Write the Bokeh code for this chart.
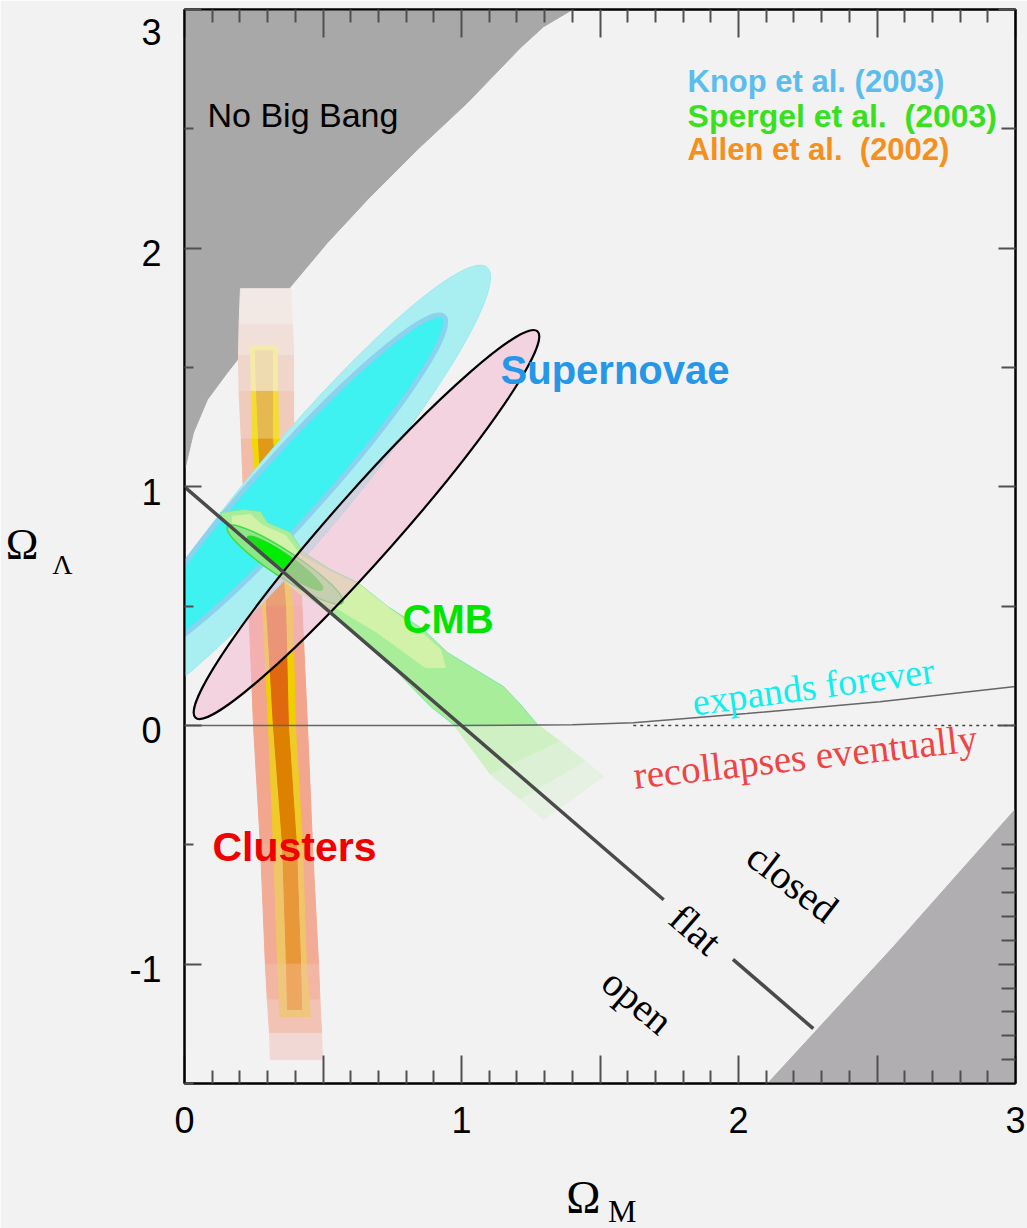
from bokeh.plotting import figure
from bokeh.models import Range1d, LinearAxis, FixedTicker, ColumnDataSource
from bokeh.embed import file_html
from bokeh.resources import INLINE
from bokeh.core.properties import value

# ---------------- data ----------------
# "No Big Bang" boundary (Omega_M, Omega_Lambda)
nbb_x = [0.0, 0.0036, 0.0325, 0.083, 0.155, 0.249, 0.383, 0.516, 0.661, 0.841, 1.022, 1.213, 1.296, 1.401, 0.0]
nbb_y = [1.08, 1.085, 1.228, 1.366, 1.479, 1.617, 1.839, 2.023, 2.204, 2.413, 2.610, 2.840, 2.928, 3.0, 3.0]
# lower-right excluded region
lr_x = [2.105, 2.56, 3.0, 3.0]
lr_y = [-1.5, -0.926, -0.35, -1.5]

# flat universe line (two pieces, broken by the "flat" label)
flat1_x = [0.0, 1.73]
flat1_y = [1.0, -0.73]
flat2_x = [1.98, 2.27]
flat2_y = [-0.98, -1.27]

# expands forever / recollapses boundary
exp_x = [0.0, 1.0, 1.4, 1.62, 2.03, 2.51, 3.0]
exp_y = [0.0, 0.0, 0.003, 0.012, 0.05, 0.10, 0.163]
rec_x = [1.62, 3.0]
rec_y = [0.0, 0.0]

# Supernovae (Knop et al. 2003) confidence ellipses: center x, center y, width, height, angle(deg)
sn_outer = dict(x=0.419, y=0.989, w=2.094, h=0.40, a=50.0)
sn_inner = dict(x=0.383, y=1.001, w=1.653, h=0.275, a=48.0)
# Older supernova ellipse (pink, black outline)
sn_old = dict(x=0.657, y=0.842, w=1.863, h=0.277, a=48.5)

# Clusters (Allen et al. 2002) band layers
clu_y = [1.83, 1.68, 1.55, 1.40, 1.20, 0.90, 0.50, 0.00, -0.50, -1.00, -1.15, -1.29, -1.40]
clu_l = [0.202, 0.197, 0.195, 0.197, 0.205, 0.215, 0.232, 0.249, 0.274, 0.292, 0.299, 0.307, 0.310]
clu_r = [0.383, 0.390, 0.394, 0.394, 0.394, 0.405, 0.424, 0.444, 0.462, 0.484, 0.489, 0.495, 0.498]
clu_c = ["#f2e9e5", "#f1e0da", "#f0d5cb", "#f0cabb", "#f2bca8", "#f2ae98", "#f2a48c",
         "#f2a68e", "#f2ab94", "#f2b6a2", "#f2c3b5", "#f2d8d4"]
yel_y = [1.59, 1.40, 1.20, 0.90, 0.50, 0.00, -0.50, -1.00, -1.22]
yel_l = [0.238, 0.241, 0.245, 0.262, 0.282, 0.303, 0.321, 0.336, 0.345]
yel_r = [0.336, 0.337, 0.339, 0.360, 0.390, 0.400, 0.426, 0.440, 0.455]
yel_c = ["#f5eaa8", "#f2de30", "#f0d800", "#f0d400", "#f0cf00", "#f0ca28", "#f0c468", "#f0c67e"]
core_y = [1.57, 1.40, 1.20, 0.90, 0.50, 0.00, -0.50, -1.00, -1.19]
core_l = [0.256, 0.260, 0.267, 0.280, 0.296, 0.321, 0.354, 0.368, 0.372]
core_r = [0.318, 0.318, 0.318, 0.338, 0.365, 0.375, 0.404, 0.419, 0.423]
core_c = ["#eedcb0", "#e6b850", "#e09a18", "#dd8200", "#e0680e", "#de8000", "#e89838", "#eca860"]

# CMB (Spergel et al. 2003)
cmb_x = [0.130, 0.213, 0.274, 0.300, 0.383, 0.430, 0.527, 0.625, 0.733, 0.863, 0.949, 1.032, 1.152, 1.213, 1.274,
         1.152, 0.971, 0.888, 0.769, 0.625, 0.491, 0.347, 0.249, 0.166, 0.141]
cmb_y = [0.892, 0.905, 0.897, 0.850, 0.809, 0.725, 0.654, 0.599, 0.499, 0.402, 0.306, 0.247, 0.163, 0.088, 0.004,
         0.000, 0.004, 0.080, 0.222, 0.373, 0.499, 0.624, 0.750, 0.821, 0.850]
cmb_in_x = [0.173, 0.238, 0.282, 0.365, 0.419, 0.527, 0.635, 0.744, 0.852, 0.924, 0.942, 0.870, 0.780, 0.690,
            0.599, 0.527, 0.419, 0.310, 0.220, 0.173]
cmb_in_y = [0.876, 0.884, 0.838, 0.796, 0.712, 0.645, 0.587, 0.486, 0.394, 0.318, 0.243, 0.243, 0.318, 0.394,
            0.457, 0.507, 0.549, 0.654, 0.758, 0.821]
ext_xs = [[1.032, 1.274, 1.357, 1.105, 0.971, 0.888],
          [1.357, 1.448, 1.213, 1.105],
          [1.448, 1.513, 1.296, 1.213]]
ext_ys = [[0.247, 0.004, -0.067, -0.205, 0.004, 0.080],
          [-0.067, -0.151, -0.310, -0.205],
          [-0.151, -0.214, -0.394, -0.310]]
ext_c = ["#cff0c2", "#dbf0d5", "#e6f0e3"]
cmb_ring = dict(x=0.363, y=0.674, w=0.498, h=0.109, a=-33.5)
cmb_core = dict(x=0.363, y=0.680, w=0.332, h=0.071, a=-35.0)
cmb_peak = dict(x=0.329, y=0.716, w=0.159, h=0.050, a=-35.0)

# tick values
x_major = [0, 0.5, 1, 1.5, 2, 2.5, 3]
x_minor = [i / 10 for i in range(31) if i % 5 != 0]
x_labels = {0: "0", 0.5: "", 1: "1", 1.5: "", 2: "2", 2.5: "", 3: "3"}
y_major = [-1, 0, 1, 2, 3]
y_minor_left = [-1.5, -0.5, 0.5, 1.5, 2.5]
y_minor_right = [round(-1.4 + i / 10, 1) for i in range(10) if i != 4] + [0.5, 1.5, 2.5]
# where the y tick labels sit (the top one is pulled inside the canvas)
y_label_pos = [-1.02, -0.02, 0.98, 1.98, 2.905]
y_label_txt = ["-1", "0", "1", "2", "3"]

# ---------------- figure ----------------
p = figure(frame_width=831, frame_height=1074, x_range=Range1d(0, 3), y_range=Range1d(-1.5, 3),
           x_axis_type=None, y_axis_type=None, output_backend="svg", toolbar_location=None,
           min_border_left=184, min_border_right=12, min_border_top=9, min_border_bottom=145)
p.background_fill_color = "#f2f2f2"
p.border_fill_color = "#f2f2f2"
p.outline_line_color = "black"
p.outline_line_width = 2

SANS = "Liberation Sans"
SERIF = "Liberation Serif"


def tick_axis(ticks, minor, tin, min_in):
    ax = LinearAxis(ticker=FixedTicker(ticks=ticks, minor_ticks=minor))
    ax.major_tick_in = tin
    ax.major_tick_out = 0
    ax.minor_tick_in = min_in
    ax.minor_tick_out = 0
    ax.axis_line_color = "black"
    ax.axis_line_width = 2
    ax.major_tick_line_color = "#505050"
    ax.major_tick_line_width = 2
    ax.minor_tick_line_color = "#505050"
    ax.minor_tick_line_width = 2
    ax.major_label_text_font_size = "0px"
    ax.major_label_standoff = 0
    ax.major_label_overrides = {t: "" for t in ticks}
    return ax


def text_axis(ticks, labels, font, size, standoff):
    ax = LinearAxis(ticker=FixedTicker(ticks=ticks, minor_ticks=[]))
    ax.axis_line_color = None
    ax.major_tick_line_color = None
    ax.minor_tick_line_color = None
    ax.major_tick_in = 0
    ax.major_tick_out = 0
    ax.minor_tick_in = 0
    ax.minor_tick_out = 0
    ax.major_label_overrides = dict(zip(ticks, labels))
    ax.major_label_text_font = font
    ax.major_label_text_font_size = size
    ax.major_label_text_color = "black"
    ax.major_label_standoff = standoff
    return ax


# bottom: ticks + numbers, then Omega, then subscript M
xb = tick_axis(x_major, x_minor, 28, 13)
xb.major_label_overrides = x_labels
xb.major_label_text_font = SANS
xb.major_label_text_font_size = "36px"
xb.major_label_text_color = "black"
xb.major_label_standoff = 23
p.add_layout(xb, "below")
p.add_layout(text_axis([1.44], ["Ω"], SERIF, "46px", 36), "below")
p.add_layout(text_axis([1.58], ["M"], SERIF, "32px", -33), "below")
# top
p.add_layout(tick_axis(x_major, x_minor, 28, 13), "above")
# left: ticks, numbers, subscript Lambda, Omega
p.add_layout(tick_axis(y_major, y_minor_left, 17, 9), "left")
p.add_layout(text_axis(y_label_pos, y_label_txt, SANS, "36px", 23), "left")
p.add_layout(text_axis([0.674], ["Λ"], SERIF, "28px", 54), "left")
p.add_layout(text_axis([0.757], ["Ω"], SERIF, "44px", 11), "left")
# right
p.add_layout(tick_axis(y_major, y_minor_right, 17, 14), "right")

# excluded regions
p.patch(nbb_x, nbb_y, fill_color="#a8a8a8", line_color="#a8a8a8", line_width=1)
p.patch(lr_x, lr_y, fill_color="#b1aeb1", line_color="#b1aeb1", line_width=1)


def band(ys, ls, rs, cols):
    xs_l, ys_l = [], []
    for i in range(len(cols)):
        xs_l.append([ls[i], rs[i], rs[i + 1], ls[i + 1]])
        ys_l.append([ys[i], ys[i], ys[i + 1], ys[i + 1]])
    src = ColumnDataSource(dict(xs=xs_l, ys=ys_l, c=cols))
    p.patches("xs", "ys", source=src, fill_color="c", line_color="c", line_width=1)


# clusters
band(clu_y, clu_l, clu_r, clu_c)
band(yel_y, yel_l, yel_r, yel_c)
band(core_y, core_l, core_r, core_c)

# supernovae (Knop)
p.ellipse(x=sn_outer["x"], y=sn_outer["y"], width=sn_outer["w"], height=sn_outer["h"], angle=sn_outer["a"],
          angle_units="deg", fill_color="#a9eff2", line_color="#a0e8f0", line_width=1)
p.ellipse(x=sn_inner["x"], y=sn_inner["y"], width=sn_inner["w"], height=sn_inner["h"], angle=sn_inner["a"],
          angle_units="deg", fill_color="#3ef2f2", line_color="#8ad2ee", line_width=5)

# CMB
ext_src = ColumnDataSource(dict(xs=ext_xs, ys=ext_ys, c=ext_c))
p.patches("xs", "ys", source=ext_src, fill_color="c", line_color="c", line_width=1)
p.patch(cmb_x, cmb_y, fill_color="#a8ee9a", line_color="#7ee6b0", line_width=1)
p.patch(cmb_in_x, cmb_in_y, fill_color="#d3f2a9", line_color="#d3f2a9", line_width=1)
p.ellipse(x=cmb_ring["x"], y=cmb_ring["y"], width=cmb_ring["w"], height=cmb_ring["h"], angle=cmb_ring["a"],
          angle_units="deg", fill_color="#8fe68a", line_color="#3ee03e", line_width=1.5)
p.ellipse(x=cmb_core["x"], y=cmb_core["y"], width=cmb_core["w"], height=cmb_core["h"], angle=cmb_core["a"],
          angle_units="deg", fill_color="#22d822", line_color="#22d822", line_width=1)
p.ellipse(x=cmb_peak["x"], y=cmb_peak["y"], width=cmb_peak["w"], height=cmb_peak["h"], angle=cmb_peak["a"],
          angle_units="deg", fill_color="#00ec00", line_color=None)

# older SN ellipse (translucent pink, black outline)
p.ellipse(x=sn_old["x"], y=sn_old["y"], width=sn_old["w"], height=sn_old["h"], angle=sn_old["a"],
          angle_units="deg", fill_color="#f3bad0", fill_alpha=0.55, line_color="black", line_width=2.2)

# lines
p.line(exp_x, exp_y, line_color="#666666", line_width=1.5)
p.line(rec_x, rec_y, line_color="#444444", line_width=1.5, line_dash="3 4")
p.line(flat1_x, flat1_y, line_color="#4a4a4a", line_width=3.5)
p.line(flat2_x, flat2_y, line_color="#4a4a4a", line_width=3.5)


def txt(x, y, s, color, size, font=SANS, style="normal", angle=0.0, align="left", baseline="alphabetic"):
    p.text(x=[x], y=[y], text=[s], text_color=color, text_font=value(font), text_font_size=size,
           text_font_style=style, angle=angle, angle_units="deg", text_align=align, text_baseline=baseline)


NB = "\u00a0"
txt(0.083, 2.56, "No Big Bang", "black", "34px")
txt(1.141, 1.491, "Supernovae", "#2597e6", "40px", style="bold")
txt(0.787, 0.448, "CMB", "#00e400", "40px", style="bold")
txt(0.101, -0.507, "Clusters", "#f00000", "41px", style="bold")
txt(1.816, 2.698, "Knop et al. (2003)", "#5bbdee", "31px", style="bold")
txt(1.816, 2.555, "Spergel et al." + NB + " (2003)", "#38e020", "32px", style="bold")
txt(1.816, 2.413, "Allen et al." + NB + " (2002)", "#f4901e", "31px", style="bold")
txt(1.834, 0.096, "expands forever", "#10eeee", "38px", font=SERIF, angle=7.7)
txt(1.621, -0.209, "recollapses eventually", "#ef4444", "39px", font=SERIF, angle=6.3)
txt(2.195, -0.658, "closed", "black", "40px", font=SERIF, angle=-37.5, align="center", baseline="middle")
txt(1.845, -0.855, "flat", "black", "40px", font=SERIF, angle=-41, align="center", baseline="middle")
txt(1.635, -1.156, "open", "black", "40px", font=SERIF, angle=-40, align="center", baseline="middle")

open("out.html", "w").write(file_html(p, INLINE))
